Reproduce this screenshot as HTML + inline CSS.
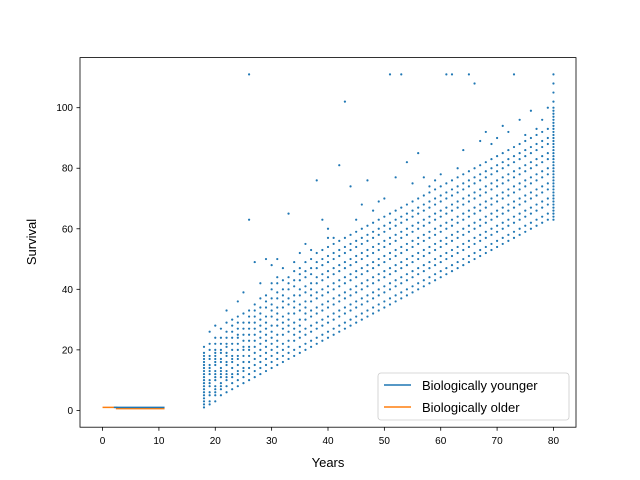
<!DOCTYPE html>
<html><head><meta charset="utf-8"><style>
body{margin:0;background:#fff}
svg{display:block;font-family:"Liberation Sans","DejaVu Sans",sans-serif}
</style></head><body>
<svg id="chart" width="640" height="480" xmlns="http://www.w3.org/2000/svg">
<rect width="640" height="480" fill="#fff"/>
<g id="points"></g>
<g id="lines"></g>
<rect x="80" y="57.6" width="496" height="369.6" fill="none" stroke="#000" stroke-width="0.8"/>
<g id="xticks"></g>
<g id="yticks"></g>
<text x="328" y="467" font-size="13" text-anchor="middle">Years</text>
<text transform="translate(36,242) rotate(-90)" font-size="13" text-anchor="middle">Survival</text>
<g>
<rect x="378" y="373" width="191" height="47" rx="3" fill="#fff" fill-opacity="0.8" stroke="#ccc" stroke-width="0.8"/>
<line x1="384" y1="385" x2="411" y2="385" stroke="#1f77b4" stroke-width="1.6"/>
<text x="422" y="390" font-size="13">Biologically younger</text>
<line x1="384" y1="407" x2="411" y2="407" stroke="#ff7f0e" stroke-width="1.6"/>
<text x="422" y="412" font-size="13">Biologically older</text>
</g>
</svg>
<script>
const ages=[18,19,20,21,22,23,24,25,26,27,28,29,30,31,32,33,34,35,36,37,38,39,40,41,42,43,44,45,46,47,48,49,50,51,52,53,54,55,56,57,58,59,60,61,62,63,64,65,66,67,68,69,70,71,72,73,74,75,76,77,78,79,80];
const survival=[
[1,4,7,9,11,13,16,21],[3,6,9,12,14,17,20,26],[3,7,10,13,16,19,22,28],[5,8,11,14,17,20,24,27],
[6,10,13,16,19,22,26,33],[7,11,14,17,20,24,28,30],[8,12,15,18,22,25,29,36],[9,13,16,20,23,27,32,39],
[10,14,18,21,25,29,33,63,111],[11,15,19,23,27,31,35,49],[12,16,20,24,28,32,37,42],[13,17,21,25,29,34,38,50],
[14,18,22,26,31,35,40,48],[15,19,23,28,32,37,42,50],[16,20,25,29,34,38,43,47],[17,21,26,30,35,40,44,65],
[18,23,27,32,36,41,46,49],[19,24,28,33,38,43,47,52],[20,25,30,34,39,44,49,55],[21,26,31,36,40,45,50,53],
[22,27,32,37,42,47,52,76],[23,28,33,38,43,48,53,63],[24,29,34,39,44,49,54,60],[25,30,35,40,45,50,55,57],
[26,31,36,41,46,51,56,81],[27,32,37,42,47,52,57,102],[28,33,38,43,48,53,58,74],[29,34,39,44,49,54,59,63],
[30,35,40,45,50,55,60,68],[31,36,41,46,51,56,61,76],[32,37,42,47,52,57,62,66],[33,38,43,48,53,58,63,69],
[34,39,44,49,54,59,64,70],[35,40,45,50,55,60,65,111],[36,41,46,51,56,61,66,77],[37,42,47,52,57,62,67,111],
[38,43,48,53,58,63,68,82],[39,44,49,54,59,64,69,75],[40,45,50,55,60,65,70,85],[41,46,51,56,61,66,71,77],
[42,47,52,57,62,67,72,74],[43,48,53,58,63,68,73,76],[44,49,54,59,64,69,74,78],[45,50,55,60,65,70,75,111],
[46,51,56,61,66,71,76,111],[47,52,57,62,67,72,77,80],[48,53,58,63,68,73,78,86],[49,54,59,64,69,74,79,111],
[50,55,60,65,70,75,80,108],[51,56,61,66,71,76,81,89],[52,57,62,67,72,77,82,92],[53,58,63,68,73,78,83,88],
[54,59,64,69,74,79,84,90],[55,60,65,70,75,80,85,94],[56,61,66,71,76,81,86,92],[57,62,67,72,77,82,87,111],
[58,63,68,73,78,83,88,96],[59,64,69,74,79,84,89,91],[60,65,70,75,80,85,90,99],[61,66,71,76,81,86,91,93],
[62,67,72,77,82,87,92,96],[63,68,73,78,83,88,93,100],
[63,66,69,72,75,78,81,84,87,90,93,96,99,102,105,108,111]];
const survivalExtra=[
[2,3,5,6,8,10,12,14,15,17,18,19],[2,5,8,10,13,15,18,22],[5,6,8,11,12,15,17,18,20,24],[7,9,12,13,16,19,22],
[8,11,12,15,18,21,24,29],[9,12,16,18,22,26],[10,13,17,20,24,27,31],[11,14,18,21,25,29],
[12,16,20,23,27,31],[13,17,21,25,29,33],[14,18,22,26,30,34],[15,19,23,27,31,36],
[16,20,24,28,33,37,42],[17,21,25,30,34,39,44],[18,22,27,31,36,40],[19,23,28,32,37,42],
[20,25,29,34,38,43],[21,26,30,35,40,45],[22,27,32,36,41,46],[23,28,33,38,42,47],
[24,29,34,39,44,49],[25,30,35,40,45,50],[26,31,36,41,46,51,57],[27,32,37,42,47,52],
[28,33,38,43,48,53],[29,34,39,44,49,54],[30,35,40,45,50,55],[31,36,41,46,51,56],
[32,37,42,47,52,57],[33,38,43,48,53,58],[34,39,44,49,54,59],[35,40,45,50,55,60],
[36,41,46,51,56,61],[37,42,47,52,57,62],[38,43,48,53,58,63],[39,44,49,54,59,64],
[40,45,50,55,60,65],[41,46,51,56,61,66],[42,47,52,57,62,67],[43,48,53,58,63,68],
[44,49,54,59,64,69],[45,50,55,60,65,70],[46,51,56,61,66,71],[47,52,57,62,67,72],
[48,53,58,63,68,73],[49,54,59,64,69,74],[50,55,60,65,70,75],[51,56,61,66,71,76],
[52,57,62,67,72,77],[53,58,63,68,73,78],[54,59,64,69,74,79],[55,60,65,70,75,80],
[56,61,66,71,76,81],[57,62,67,72,77,82],[58,63,68,73,78,83],[59,64,69,74,79,84],
[60,65,70,75,80,85],[61,66,71,76,81,86],[62,67,72,77,82,87],[63,68,73,78,83,88],
[64,69,74,79,84,89],[65,70,75,80,85,90],
[64,65,67,68,70,71,73,74,76,77,79,80,82,83,85,86,88,89,91,92,94,95,97,98,100]];
const youngerX=[2,11];
const youngerY=[1,1];
const olderX=[0,2.5,2.5,11];
const olderY=[1,1,0.6,0.6];
const xTicks=[0,10,20,30,40,50,60,70,80];
const yTicks=[0,20,40,60,80,100];

const NS="http://www.w3.org/2000/svg";
const xMin=-4,xMax=84,yMin=-5.55,yMax=116.55;
const L=80,R=576,T=57.6,B=427.2;
function sx(v){return L+(v-xMin)/(xMax-xMin)*(R-L);}
function sy(v){return B-(v-yMin)/(yMax-yMin)*(B-T);}
function mk(tag,attrs,parent){const e=document.createElementNS(NS,tag);for(const k in attrs)e.setAttribute(k,attrs[k]);parent.appendChild(e);return e;}

const pg=document.getElementById('points');
function drawPoints(list){
  ages.forEach((a,i)=>{list[i].forEach(v=>{
    const c=mk('circle',{cx:sx(a),cy:sy(v),r:1.1,fill:'#1f77b4'},pg);
    
    
  });});
}
drawPoints(survival);
drawPoints(survivalExtra);

const lg=document.getElementById('lines');
function poly(xs,ys,color,name){
  const p=mk('polyline',{points:xs.map((x,i)=>sx(x)+','+sy(ys[i])).join(' '),fill:'none',stroke:color,'stroke-width':1.6},lg);
  
  
}
poly(olderX,olderY,'#ff7f0e','line-older');
poly(youngerX,youngerY,'#1f77b4','line-younger');

const xg=document.getElementById('xticks');
xTicks.forEach(t=>{
  const l=mk('line',{x1:sx(t),x2:sx(t),y1:B,y2:B+3.5,stroke:'#000','stroke-width':0.8},xg);
  
  
  const tx=mk('text',{x:sx(t),y:B+17,'font-size':10,'text-anchor':'middle'},xg);
  tx.textContent=t;
  
  
});
const yg=document.getElementById('yticks');
yTicks.forEach(t=>{
  const l=mk('line',{x1:L-3.5,x2:L,y1:sy(t),y2:sy(t),stroke:'#000','stroke-width':0.8},yg);
  
  
  const tx=mk('text',{x:L-7,y:sy(t)+3.5,'font-size':10,'text-anchor':'end'},yg);
  tx.textContent=t;
  
  
});
</script>
</body></html>
